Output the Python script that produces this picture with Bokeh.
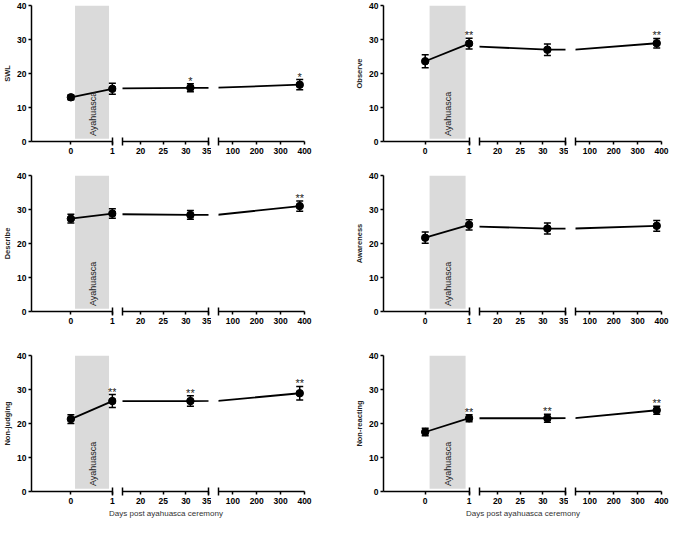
import numpy as np
from bokeh.plotting import figure
from bokeh.layouts import row, column
from bokeh.models import (FixedTicker, Range1d, ColumnDataSource, Whisker,
                          TeeHead, BoxAnnotation, Label, Div)
from bokeh.core.properties import value
from bokeh.embed import file_html
from bokeh.resources import INLINE

# ---------------- data ----------------
days = [0, 1, 31, 380]

seg1_ticks = [0, 1]
seg2_ticks = [20, 25, 30, 35]
seg3_ticks = [100, 200, 300, 400]
y_ticks = [0, 10, 20, 30, 40]

# axis segments (broken x axis) and break marks
seg_ranges = [(-0.95, 1.1), (16, 35), (40, 400)]
seg_bounds = [(-0.95, 1), (16, 35), (40, 400)]
seg_breaks = [[1], [16, 35], [40]]
seg_ticks = [seg1_ticks, seg2_ticks, seg3_ticks]

ceremony_span = (0.1, 0.92)

swl_mean = [13.0, 15.5, 15.8, 16.7]
swl_sem = [0.7, 1.6, 1.2, 1.5]
swl_sig = ["", "", "*", "*"]

observe_mean = [23.6, 28.8, 27.0, 28.9]
observe_sem = [1.9, 1.6, 1.7, 1.4]
observe_sig = ["", "**", "", "**"]

describe_mean = [27.3, 28.8, 28.4, 31.0]
describe_sem = [1.3, 1.4, 1.3, 1.5]
describe_sig = ["", "", "", "**"]

awareness_mean = [21.7, 25.5, 24.4, 25.2]
awareness_sem = [1.65, 1.5, 1.6, 1.6]
awareness_sig = ["", "", "", ""]

nonjudging_mean = [21.3, 26.6, 26.6, 28.9]
nonjudging_sem = [1.3, 1.9, 1.55, 2.0]
nonjudging_sig = ["", "**", "**", "**"]

nonreacting_mean = [17.5, 21.55, 21.55, 23.9]
nonreacting_sem = [1.1, 1.0, 1.2, 1.2]
nonreacting_sig = ["", "**", "**", "**"]

panels = [
    ("SWL", swl_mean, swl_sem, swl_sig),
    ("Observe", observe_mean, observe_sem, observe_sig),
    ("Describe", describe_mean, describe_sem, describe_sig),
    ("Awareness", awareness_mean, awareness_sem, awareness_sig),
    ("Non-judging", nonjudging_mean, nonjudging_sem, nonjudging_sig),
    ("Non-reacting", nonreacting_mean, nonreacting_sem, nonreacting_sig),
]
x_title = "Days post ayahuasca ceremony"

FONT = "Liberation Sans"
frame_w = [90, 86, 86]


def style_axis(ax):
    ax.axis_line_width = 1.5
    ax.axis_line_color = "black"
    ax.major_tick_line_width = 1.5
    ax.major_tick_line_color = "black"
    ax.major_tick_in = 0
    ax.major_tick_out = 3
    ax.major_label_text_font = FONT
    ax.major_label_text_font_style = "bold"
    ax.major_label_text_font_size = "8.5px"
    ax.major_label_text_color = "black"
    ax.major_label_standoff = 2


def make_panel(name, mean, sem, sig, left_outer, right_outer, top, bottom, height):
    yr = Range1d(0, 40)
    d = np.array(days, dtype=float)
    m = np.array(mean)
    s = np.array(sem)
    figs = []
    for k in range(3):
        lo, hi = seg_ranges[k]
        blo, bhi = seg_bounds[k]
        bl = [left_outer, 4, 7][k]
        br = [2, 3, right_outer][k]
        p = figure(width=bl + frame_w[k] + br, height=height,
                   x_range=Range1d(lo, hi), y_range=yr,
                   toolbar_location=None, output_backend="svg",
                   y_axis_location="left" if k == 0 else None,
                   min_border_left=bl, min_border_right=br,
                   min_border_top=top, min_border_bottom=bottom,
                   outline_line_color=None, background_fill_color="white",
                   border_fill_color="white")
        p.xgrid.visible = False
        p.ygrid.visible = False

        xa = p.xaxis[0]
        style_axis(xa)
        xa.ticker = FixedTicker(ticks=seg_ticks[k], minor_ticks=seg_breaks[k])
        xa.bounds = (blo, bhi)
        xa.minor_tick_in = 4
        xa.minor_tick_out = 4
        xa.minor_tick_line_width = 1.5
        xa.minor_tick_line_color = "black"

        if k == 0:
            ya = p.yaxis[0]
            style_axis(ya)
            ya.ticker = FixedTicker(ticks=y_ticks)
            ya.axis_label = name
            ya.axis_label_text_font = FONT
            ya.axis_label_text_font_style = "bold"
            ya.axis_label_text_font_size = "7.5px"
            ya.axis_label_text_color = "#222222"
            ya.axis_label_standoff = 2
            box = BoxAnnotation(left=ceremony_span[0], right=ceremony_span[1],
                                bottom=0.8, top=40, fill_color="#dadada",
                                fill_alpha=1.0, line_color=None, level="underlay")
            p.add_layout(box)
            p.add_layout(Label(x=sum(ceremony_span) / 2 + 0.02, y=1.6, text="Ayahuasca",
                               angle=90, angle_units="deg", text_align="left",
                               text_baseline="middle", text_font=FONT,
                               text_font_size="9px", text_color="#222222"))

        # first segment uses its own points, later segments the whole series (clipped)
        if k == 0:
            mask_line = (d >= blo) & (d <= bhi)
            p.line(d[mask_line], m[mask_line], line_color="black", line_width=1.8)
        else:
            p.line(d, m, line_color="black", line_width=1.8)

        mask = (d >= blo) & (d <= bhi)
        src = ColumnDataSource(dict(x=d[mask], y=m[mask], upper=(m + s)[mask],
                                    lower=(m - s)[mask],
                                    sig=[t for t, keep in zip(sig, mask) if keep]))
        p.add_layout(Whisker(base="x", upper="upper", lower="lower", source=src,
                             line_color="black", line_width=1.5, level="glyph",
                             upper_head=TeeHead(size=7, line_width=1.5, line_color="black"),
                             lower_head=TeeHead(size=7, line_width=1.5, line_color="black")))
        p.scatter("x", "y", source=src, marker="circle", size=7.5,
                  fill_color="black", line_color="black")
        p.text("x", "upper", text="sig", source=src, text_align="center",
               text_baseline="alphabetic", y_offset=-3,
               text_font=value(FONT), text_font_size="11px", text_color="#222222")
        figs.append(p)
    return row(*figs, spacing=0)


def title_div(width, margin):
    return Div(text=x_title, width=width, height=11, margin=margin,
               styles={"font-family": FONT, "font-size": "8px", "line-height": "11px",
                       "color": "#333333", "text-align": "center", "white-space": "nowrap"})


row_specs = [  # (top, bottom, height)
    (5, 29, 170),
    (5, 39, 180),
    (5, 17, 158),
]

rows = []
for r, (top, bottom, height) in enumerate(row_specs):
    left = panels[2 * r]
    right = panels[2 * r + 1]
    pl = make_panel(*left, left_outer=26, right_outer=39, top=top, bottom=bottom,
                    height=height)
    pr = make_panel(*right, left_outer=40, right_outer=8, top=top, bottom=bottom,
                    height=height)
    if r == 2:
        pl = column(pl, title_div(332, (0, 11, 0, 0)), spacing=0)
        pr = column(pr, title_div(292, (0, 0, 0, 34)), spacing=0)
    rows.append(row(pl, pr, spacing=0))

layout = column(*rows, spacing=0)

open("out.html", "w").write(file_html(layout, INLINE))
